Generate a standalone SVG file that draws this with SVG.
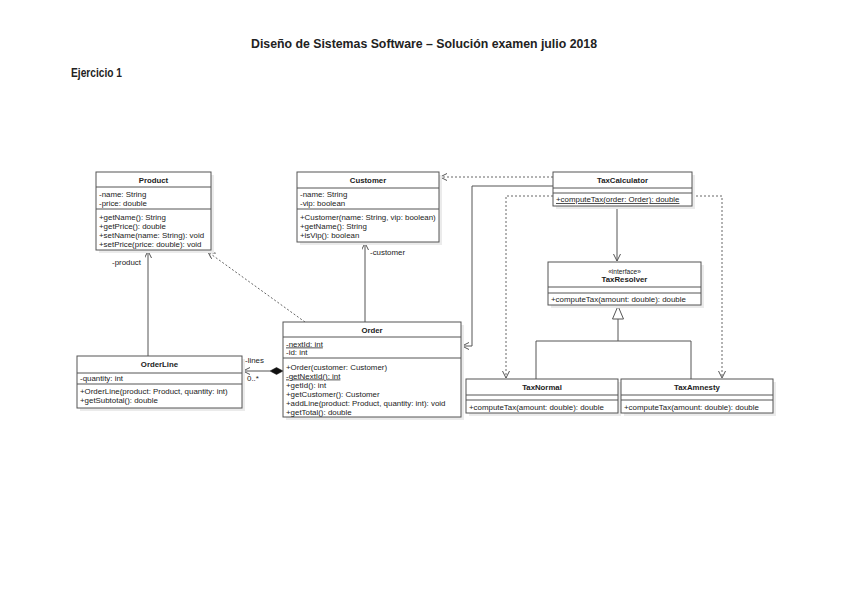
<svg xmlns="http://www.w3.org/2000/svg" width="848" height="599" viewBox="0 0 848 599">
<defs>
<style>
text{font-family:"Liberation Sans",Arial,sans-serif;fill:#222;}
.t{font-size:7.9px;}
.b{font-size:7.8px;font-weight:bold;text-anchor:middle;}
.s{font-size:6.6px;text-anchor:middle;}
.u{text-decoration:underline;}
.box{fill:#fff;stroke:#555;stroke-width:1;}
.sh{fill:#ebebeb;}
.ln{stroke:#555;stroke-width:1;fill:none;}
.ln2{stroke:#555;stroke-width:1;fill:none;}
.dl{stroke:#666;stroke-width:1;fill:none;stroke-dasharray:2,2;}
.h1{font-family:"Liberation Sans",Calibri,sans-serif;font-weight:bold;font-size:12.5px;}
</style>
<marker id="oa" markerWidth="9" markerHeight="9" refX="7" refY="3.5" orient="auto" markerUnits="userSpaceOnUse">
<path d="M0,0 L7,3.5 L0,7" fill="none" stroke="#555" stroke-width="1"/>
</marker>
</defs>
<rect width="848" height="599" fill="#fff"/>
<text class="h1" x="424" y="48" text-anchor="middle" textLength="346" lengthAdjust="spacingAndGlyphs">Diseño de Sistemas Software – Solución examen julio 2018</text>
<text class="h1" x="71" y="77" textLength="51" lengthAdjust="spacingAndGlyphs">Ejercicio 1</text>

<g id="connectors">
<line class="ln" x1="148" y1="356" x2="148" y2="251" marker-end="url(#oa)"/>
<line class="dl" x1="305" y1="322" x2="208" y2="252" marker-end="url(#oa)"/>
<line class="ln" x1="365" y1="322" x2="365" y2="243" marker-end="url(#oa)"/>
<line class="ln" x1="270" y1="371" x2="243" y2="371" marker-end="url(#oa)"/>
<polygon points="270,371 276.5,367.5 283,371 276.5,374.5" fill="#111" stroke="#111" stroke-width="0.5"/>
<line class="dl" x1="553" y1="177" x2="440" y2="177" marker-end="url(#oa)"/>
<polyline class="ln" points="553,186 472,186 472,346 462,346" marker-end="url(#oa)"/>
<line class="ln" x1="617" y1="206" x2="617" y2="261" marker-end="url(#oa)"/>
<polyline class="dl" points="553,196 506,196 506,378" marker-end="url(#oa)"/>
<polyline class="dl" points="692,196 722,196 722,378" marker-end="url(#oa)"/>
<polyline class="ln" points="536,379 536,341 691,341 691,379"/>
<line class="ln" x1="618" y1="341" x2="618" y2="319"/>
<polygon points="618,306 612.5,319 623.5,319" fill="#fff" stroke="#555" stroke-width="1"/>
<text class="t" x="112" y="265">-product</text>
<text class="t" x="370" y="255">-customer</text>
<text class="t" x="245" y="363">-lines</text>
<text class="t" x="247" y="381">0..*</text>
</g>

<g id="Product">
<rect class="sh" x="99" y="175" width="115" height="78"/>
<rect class="box" x="96" y="172" width="115" height="78"/>
<line class="ln2" x1="96" y1="187" x2="211" y2="187"/>
<line class="ln2" x1="96" y1="209" x2="211" y2="209"/>
<text class="b" x="153.5" y="183">Product</text>
<text class="t" x="99" y="196.5">-name: String</text>
<text class="t" x="99" y="205.5">-price: double</text>
<text class="t" x="99" y="219.5">+getName(): String</text>
<text class="t" x="99" y="228.5">+getPrice(): double</text>
<text class="t" x="99" y="237.5">+setName(name: String): void</text>
<text class="t" x="99" y="246.5">+setPrice(price: double): void</text>
</g>

<g id="Customer">
<rect class="sh" x="300" y="175" width="142" height="70"/>
<rect class="box" x="297" y="172" width="142" height="70"/>
<line class="ln2" x1="297" y1="188" x2="439" y2="188"/>
<line class="ln2" x1="297" y1="209" x2="439" y2="209"/>
<text class="b" x="368" y="183">Customer</text>
<text class="t" x="300" y="196.5">-name: String</text>
<text class="t" x="300" y="205.5">-vip: boolean</text>
<text class="t" x="300" y="219.5">+Customer(name: String, vip: boolean)</text>
<text class="t" x="300" y="228.5">+getName(): String</text>
<text class="t" x="300" y="237.5">+isVip(): boolean</text>
</g>

<g id="TaxCalculator">
<rect class="sh" x="556" y="175" width="139" height="34"/>
<rect class="box" x="553" y="172" width="139" height="34"/>
<line class="ln2" x1="553" y1="188" x2="692" y2="188"/>
<line class="ln2" x1="553" y1="193" x2="692" y2="193"/>
<text class="b" x="622.5" y="183">TaxCalculator</text>
<text class="t u" x="556" y="202">+computeTax(order: Order): double</text>
</g>

<g id="TaxResolver">
<rect class="sh" x="551" y="265" width="153" height="43"/>
<rect class="box" x="548" y="262" width="153" height="43"/>
<line class="ln2" x1="548" y1="287" x2="701" y2="287"/>
<line class="ln2" x1="548" y1="293" x2="701" y2="293"/>
<text class="s" x="624.5" y="273.5">«interface»</text>
<text class="b" x="624.5" y="282">TaxResolver</text>
<text class="t" x="551" y="301.5">+computeTax(amount: double): double</text>
</g>

<g id="TaxNormal">
<rect class="sh" x="469" y="382" width="152" height="34"/>
<rect class="box" x="466" y="379" width="152" height="34"/>
<line class="ln2" x1="466" y1="395" x2="618" y2="395"/>
<line class="ln2" x1="466" y1="400" x2="618" y2="400"/>
<text class="b" x="542" y="390">TaxNormal</text>
<text class="t" x="469" y="409.5">+computeTax(amount: double): double</text>
</g>

<g id="TaxAmnesty">
<rect class="sh" x="624" y="382" width="152" height="34"/>
<rect class="box" x="621" y="379" width="152" height="34"/>
<line class="ln2" x1="621" y1="395" x2="773" y2="395"/>
<line class="ln2" x1="621" y1="400" x2="773" y2="400"/>
<text class="b" x="697" y="390">TaxAmnesty</text>
<text class="t" x="624" y="409.5">+computeTax(amount: double): double</text>
</g>

<g id="Order">
<rect class="sh" x="286" y="325" width="178" height="95"/>
<rect class="box" x="283" y="322" width="178" height="95"/>
<line class="ln2" x1="283" y1="337" x2="461" y2="337"/>
<line class="ln2" x1="283" y1="358" x2="461" y2="358"/>
<text class="b" x="372" y="333">Order</text>
<text class="t u" x="286" y="346.5">-nextId: int</text>
<text class="t" x="286" y="355">-id: int</text>
<text class="t" x="286" y="369.5">+Order(customer: Customer)</text>
<text class="t u" x="286" y="378.5">-getNextId(): int</text>
<text class="t" x="286" y="387.5">+getId(): int</text>
<text class="t" x="286" y="396.5">+getCustomer(): Customer</text>
<text class="t" x="286" y="405.5">+addLine(product: Product, quantity: int): void</text>
<text class="t" x="286" y="414.5">+getTotal(): double</text>
</g>

<g id="OrderLine">
<rect class="sh" x="80" y="359" width="165" height="52"/>
<rect class="box" x="77" y="356" width="165" height="52"/>
<line class="ln2" x1="77" y1="373" x2="242" y2="373"/>
<line class="ln2" x1="77" y1="384" x2="242" y2="384"/>
<text class="b" x="159.5" y="367">OrderLine</text>
<text class="t" x="80" y="380.5">-quantity: int</text>
<text class="t" x="80" y="393.5">+OrderLine(product: Product, quantity: int)</text>
<text class="t" x="80" y="402.5">+getSubtotal(): double</text>
</g>
</svg>
